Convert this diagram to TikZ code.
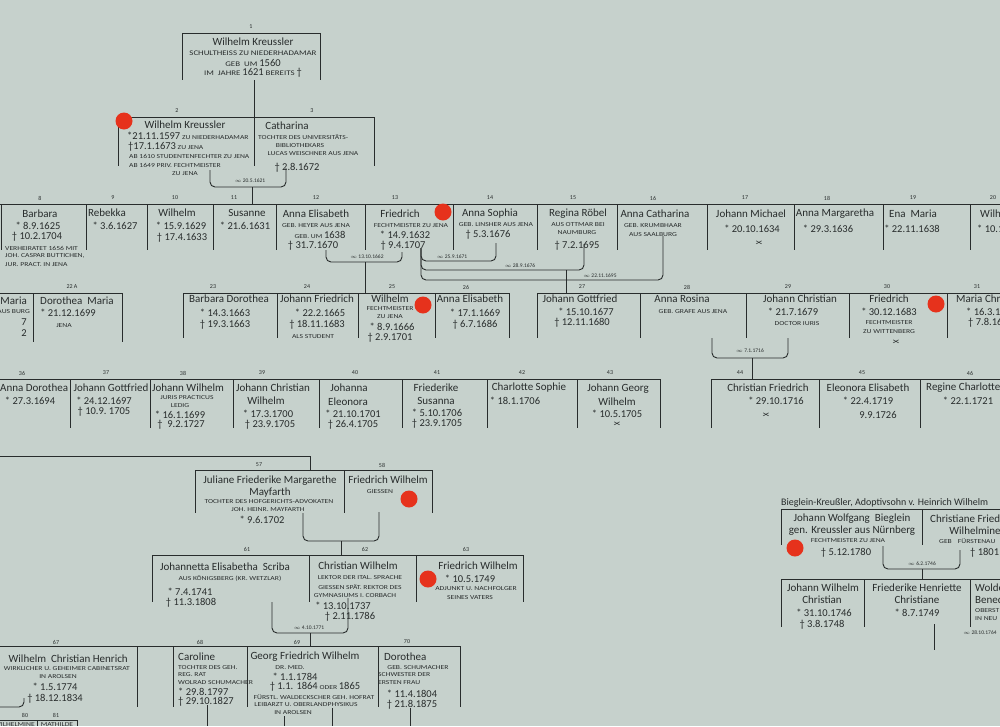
\documentclass[tikz,border=0pt]{standalone}
\usepackage{fontspec}
\setmainfont{Carlito}
\newfontfamily\capsf{Carlito}[FakeStretch=1.25]
\definecolor{paper}{RGB}{198,209,204}
\definecolor{ink}{RGB}{40,44,44}
\definecolor{dotred}{RGB}{230,50,28}
\newcommand{\fNm}{\rmfamily\fontsize{11}{12}\selectfont}
\newcommand{\fDt}{\rmfamily\fontsize{10.5}{12}\selectfont}
\newcommand{\fSm}{\capsf\fontsize{6.1}{7}\selectfont}
\newcommand{\fSL}{\capsf\fontsize{7.1}{8}\selectfont}
\newcommand{\fNu}{\rmfamily\fontsize{6}{7}\selectfont}
\newcommand{\fMa}{\rmfamily\fontsize{5.5}{6}\selectfont}
\newcommand{\xcr}{\scalebox{1.4}[0.8]{×}}
\newcommand{\marr}{$\infty$}
\newcommand{\grow}[5]{%
  \draw[ln] (#3,#1) -- (#4,#1);
  \foreach \dd in {#5} {\draw[ln] (\dd,#1) -- (\dd,#2);}
}
\tikzset{
  every node/.style={inner sep=0pt, text=ink},
  nm/.style={font=\fNm}, dt/.style={font=\fDt}, sm/.style={font=\fSm},
  sl/.style={font=\fSL}, nu/.style={font=\fNu}, ma/.style={font=\fMa},
  ln/.style={draw=ink, line width=0.9pt},
  br/.style={ln, rounded corners=5pt},
  lft/.style={anchor=west}, rgt/.style={anchor=east},
  rdot/.style={fill=dotred}
}
\begin{document}
\begin{tikzpicture}[x=1pt,y=-1pt]
\fill[paper] (0,0) rectangle (1000,726);
\useasboundingbox (0,0) rectangle (1000,726);
\clip (0,0) rectangle (1000,726);

% ---------- Row 1
\grow{33}{80}{182}{320}{182,320}
\draw[ln] (254,80) -- (254,117);
\node[nu] (n1) at (251,27) {1};
\node[nm] (p1a) at (253,42) {Wilhelm Kreussler};
\node[sl] (p1b) at (253,53) {SCHULTHEISS ZU NIEDERHADAMAR};
\node[sl] (p1c) at (253,63) {GEB\ \ UM {\fDt 1560}};
\node[sl] (p1d) at (253,73) {IM\ \ JAHRE {\fDt 1621} BEREITS {\fDt †}};

% ---------- Row 2
\grow{117}{166}{118}{374}{118,254,374}
\node[nu] (n2) at (177,111) {2};
\node[nu] (n3) at (312,111) {3};
\node[nm] (p2a) at (185,125) {Wilhelm Kreussler};
\node[sm,lft] (p2b) at (127,136) {{\fDt *21.11.1597} ZU NIEDERHADAMAR};
\node[sm,lft] (p2c) at (128,147) {{\fDt †17.1.1673} ZU JENA};
\node[sm,lft] (p2d) at (129,156) {AB 1610 STUDENTENFECHTER ZU JENA};
\node[sm,lft] (p2e) at (129,165) {AB 1649 PRIV. FECHTMEISTER};
\node[sm] (p2f) at (185,174) {ZU JENA};
\node[nm] (p3a) at (287,126) {Catharina};
\node[sm,lft] (p3b) at (258,137) {TOCHTER DES UNIVERSITÄTS-};
\node[sm] (p3c) at (300,146) {BIBLIOTHEKARS};
\node[sm] (p3d) at (313,154) {LUCAS WEISCHNER AUS JENA};
\node[dt] (p3e) at (297,168) {† 2.8.1672};
\fill[rdot] (124,121) circle (8.5pt);
\draw[br] (210,170) -- (210,187) -- (286,187) -- (286,168);
\node[ma] (m1) at (250,181) {\marr\ 20.5.1621};
\draw[ln] (252,187) -- (252,204);

% ---------- Row 3
\grow{204}{250}{0}{1000}{1,86,147,213,276,365,453,537,617,707,794,883,970}
\foreach \nn/\xp in {8/40,9/113,10/175,11/234,12/316,13/395,14/490,15/573,16/653,17/745,18/827,19/913,20/993}
  {\node[nu] (r3n\nn) at (\xp,198) {\nn};}
\node[nm] (p8a) at (40,214) {Barbara};
\node[dt] (p8b) at (38,226) {* 8.9.1625};
\node[dt] (p8c) at (37,237) {† 10.2.1704};
\node[sm,lft] (p8d) at (5,248) {VERHEIRATET 1656 MIT};
\node[sm,lft] (p8e) at (5,256) {JOH. CASPAR BUTTICHEN,};
\node[sm,lft] (p8f) at (5,265) {JUR. PRACT. IN JENA};
\node[nm,lft] (p9a) at (88,213) {Rebekka};
\node[dt] (p9b) at (115,226) {* 3.6.1627};
\node[nm] (p10a) at (177,213) {Wilhelm};
\node[dt] (p10b) at (181,226) {* 15.9.1629};
\node[dt] (p10c) at (182,238) {† 17.4.1633};
\node[nm] (p11a) at (247,213) {Susanne};
\node[dt] (p11b) at (245,226) {* 21.6.1631};
\node[nm] (p12a) at (316,214) {Anna Elisabeth};
\node[sm] (p12b) at (316,226) {GEB. HEYER AUS JENA};
\node[sm] (p12c) at (320,235) {GEB. UM {\fDt 1638}};
\node[dt] (p12d) at (313,246) {† 31.7.1670};
\node[nm] (p13a) at (400,214) {Friedrich};
\node[sm] (p13b) at (411,226) {FECHTMEISTER ZU JENA};
\node[dt] (p13c) at (405,235) {* 14.9.1632};
\node[dt] (p13d) at (403,246) {† 9.4.1707};
\fill[rdot] (443,212) circle (8.5pt);
\node[nm] (p14a) at (490,214) {Anna Sophia};
\node[sm] (p14b) at (496,225) {GEB. LINSHER AUS JENA};
\node[dt] (p14c) at (488,235) {† 5.3.1676};
\node[nm] (p15a) at (578,214) {Regina Röbel};
\node[sm] (p15b) at (578,225) {AUS OTTMAR BEI};
\node[sm] (p15c) at (577,233) {NAUMBURG};
\node[dt] (p15d) at (577,246) {† 7.2.1695};
\node[nm] (p16a) at (655,214) {Anna Catharina};
\node[sm] (p16b) at (653,226) {GEB. KRUMBHAAR};
\node[sm] (p16c) at (653,235) {AUS SAALBURG};
\node[nm] (p17a) at (751,214) {Johann Michael};
\node[dt] (p17b) at (752,229) {* 20.10.1634};
\node[dt] (p17c) at (759,243) {\xcr};
\node[nm] (p18a) at (835,214) {Anna Margaretha};
\node[dt] (p18b) at (828,229) {* 29.3.1636};
\node[nm] (p19a) at (913,214) {Ena\ \ Maria};
\node[dt] (p19b) at (912,229) {* 22.11.1638};
\node[nm,lft] (p20a) at (980,214) {Wilhelm};
\node[dt,lft] (p20b) at (977,229) {* 10.1};

% marriage brackets row 3
\draw[br] (326,250) -- (326,262) -- (402,262) -- (402,252);
\node[ma] (m2) at (367,257) {\marr\ 13.10.1662};
\draw[ln] (365,262) -- (365,293);
\draw[br] (421,248) -- (421,261) -- (496,261) -- (496,243);
\node[ma] (m3) at (452,257) {\marr\ 25.9.1671};
\draw[br] (421,248) -- (421,270) -- (584,270) -- (584,244);
\node[ma] (m4) at (520,266) {\marr\ 28.9.1676};
\draw[br] (421,248) -- (421,280) -- (663,280) -- (663,236);
\node[ma] (m5) at (600,276) {\marr\ 22.11.1695};
\draw[ln] (566,270) -- (566,293);

% ---------- Row 4
\grow{293}{342}{0}{122}{33,122}
\node[nu] (n22a) at (72,287) {22 A};
\node[nm,rgt] (p21a) at (27,301) {Maria};
\node[sm,rgt] (p21b) at (30,312) {AUS BURG};
\node[dt,rgt] (p21c) at (27,322) {7};
\node[dt,rgt] (p21d) at (27,333) {2};
\node[nm] (p22a) at (77,301) {Dorothea\ \ Maria};
\node[dt] (p22b) at (68,313) {* 21.12.1699};
\node[sm] (p22c) at (64,326) {JENA};

\grow{293}{338}{183}{509}{183,277,358,435,509}
\foreach \nn/\xp in {23/213,24/307,25/392,26/466}
  {\node[nu] (r4n\nn) at (\xp,287) {\nn};}
\node[nm] (p23a) at (229,299) {Barbara Dorothea};
\node[dt] (p23b) at (225,313) {* 14.3.1663};
\node[dt] (p23c) at (225,325) {† 19.3.1663};
\node[nm] (p24a) at (317,299) {Johann Friedrich};
\node[dt] (p24b) at (320,313) {* 22.2.1665};
\node[dt] (p24c) at (317,325) {† 18.11.1683};
\node[sm] (p24d) at (313,337) {ALS STUDENT};
\node[nm] (p25a) at (390,299) {Wilhelm};
\node[sm] (p25b) at (390,309) {FECHTMEISTER};
\node[sm] (p25c) at (390,317) {ZU JENA};
\node[dt] (p25d) at (392,327) {* 8.9.1666};
\node[dt] (p25e) at (390,338) {† 2.9.1701};
\fill[rdot] (423,305) circle (8.5pt);
\node[nm] (p26a) at (470,299) {Anna Elisabeth};
\node[dt] (p26b) at (475,313) {* 17.1.1669};
\node[dt] (p26c) at (475,325) {† 6.7.1686};

\grow{293}{338}{537}{1000}{537,640,746,849,947}
\foreach \nn/\xp in {27/582,28/687,29/788,30/887,31/977}
  {\node[nu] (r4n\nn) at (\xp,287) {\nn};}
\node[nm] (p27a) at (580,299) {Johann Gottfried};
\node[dt] (p27b) at (586,312) {* 15.10.1677};
\node[dt] (p27c) at (582,323) {† 12.11.1680};
\node[nm] (p28a) at (682,299) {Anna Rosina};
\node[sm] (p28b) at (693,312) {GEB. GRAFE AUS JENA};
\node[nm] (p29a) at (800,299) {Johann Christian};
\node[dt] (p29b) at (793,312) {* 21.7.1679};
\node[sm] (p29c) at (797,324) {DOCTOR IURIS};
\node[nm] (p30a) at (889,299) {Friedrich};
\node[dt] (p30b) at (889,312) {* 30.12.1683};
\node[sm] (p30c) at (889,323) {FECHTMEISTER};
\node[sm] (p30d) at (889,332) {ZU WITTENBERG};
\node[dt] (p30e) at (896,342) {\xcr};
\fill[rdot] (936,304) circle (8.5pt);
\node[nm,lft] (p31a) at (956,299) {Maria Christiane};
\node[dt,lft] (p31b) at (966,312) {* 16.3.1};
\node[dt,lft] (p31c) at (968,323) {† 7.8.16};
\draw[br] (712,338) -- (712,358) -- (788,358) -- (788,338);
\node[ma] (m6) at (750,351) {\marr\ 7.1.1716};
\draw[ln] (752,358) -- (752,379);

% ---------- Row 5
\grow{379}{428}{0}{660}{70,150,233,319,402,487,577,660}
\grow{379}{428}{711}{1000}{711,819,920}
\foreach \nn/\xp in {36/22,37/106,38/183,39/262,40/355,41/437,42/522,43/610,44/740,45/862,46/970}
  {\node[nu] (r5n\nn) at (\xp,373) {\nn};}
\node[nm,lft] (p36a) at (0,388) {Anna Dorothea};
\node[dt] (p36b) at (30,401) {* 27.3.1694};
\node[nm] (p37a) at (111,388) {Johann Gottfried};
\node[dt] (p37b) at (104,401) {* 24.12.1697};
\node[dt] (p37c) at (104,412) {† 10.9.\ 1705};
\node[nm] (p38a) at (188,388) {Johann Wilhelm};
\node[sm] (p38b) at (187,398) {JURIS PRACTICUS};
\node[sm] (p38c) at (180,406) {LEDIG};
\node[dt] (p38d) at (180,415) {* 16.1.1699};
\node[dt] (p38e) at (181,425) {†\ \ 9.2.1727};
\node[nm] (p39a) at (273,388) {Johann Christian};
\node[nm] (p39b) at (266,401) {Wilhelm};
\node[dt] (p39c) at (268,414) {* 17.3.1700};
\node[dt] (p39d) at (270,425) {† 23.9.1705};
\node[nm] (p40a) at (349,388) {Johanna};
\node[nm] (p40b) at (348,402) {Eleonora};
\node[dt] (p40c) at (353,414) {* 21.10.1701};
\node[dt] (p40d) at (353,425) {† 26.4.1705};
\node[nm] (p41a) at (436,388) {Friederike};
\node[nm] (p41b) at (436,401) {Susanna};
\node[dt] (p41c) at (437,413) {* 5.10.1706};
\node[dt] (p41d) at (437,424) {† 23.9.1705};
\node[nm] (p42a) at (529,388) {Charlotte Sophie};
\node[dt] (p42b) at (515,401) {* 18.1.1706};
\node[nm] (p43a) at (618,389) {Johann Georg};
\node[nm] (p43b) at (617,402) {Wilhelm};
\node[dt] (p43c) at (617,414) {* 10.5.1705};
\node[dt] (p43d) at (617,424) {\xcr};
\node[nm] (p44a) at (768,388) {Christian Friedrich};
\node[dt] (p44b) at (776,401) {* 29.10.1716};
\node[dt] (p44c) at (766,415) {\xcr};
\node[nm] (p45a) at (868,388) {Eleonora Elisabeth};
\node[dt] (p45b) at (868,401) {* 22.4.1719};
\node[dt] (p45c) at (878,415) {9.9.1726};
\node[nm,lft] (p46a) at (926,388) {Regine Charlotte};
\node[dt] (p46b) at (968,401) {* 22.1.1721};

% ---------- Row 6
\draw[ln] (0,456) -- (310,456) -- (310,470);
\grow{470}{513}{195}{432}{195,344,432}
\node[nu] (n57) at (259,465) {57};
\node[nu] (n58) at (382,465) {58};
\node[nm] (p57a) at (270,481) {Juliane Friederike Margarethe};
\node[nm] (p57b) at (270,493) {Mayfarth};
\node[sm] (p57c) at (269,502) {TOCHTER DES HOFGERICHTS-ADVOKATEN};
\node[sm] (p57d) at (268,510) {JOH. HEINR. MAYFARTH};
\node[dt] (p57e) at (262,520) {* 9.6.1702};
\node[nm] (p58a) at (388,480) {Friedrich Wilhelm};
\node[sm] (p58b) at (380,492) {GIESSEN};
\fill[rdot] (409,499) circle (8.5pt);
\draw[br] (303,513) -- (303,541) -- (379,541) -- (379,512);
\draw[ln] (341,541) -- (341,555);

% ---------- Row 7
\grow{555}{602}{152}{523}{152,309,416,523}
\node[nu] (n61) at (247,549) {61};
\node[nu] (n62) at (365,549) {62};
\node[nu] (n63) at (466,549) {63};
\node[nm] (p61a) at (225,567) {Johannetta Elisabetha\ \ Scriba};
\node[sm] (p61b) at (230,578) {AUS KÖNIGSBERG (KR. WETZLAR)};
\node[dt] (p61c) at (190,592) {* 7.4.1741};
\node[dt] (p61d) at (191,603) {† 11.3.1808};
\node[nm] (p62a) at (358,566) {Christian Wilhelm};
\node[sm] (p62b) at (360,578) {LEKTOR DER ITAL. SPRACHE};
\node[sm] (p62c) at (360,587) {GIESSEN SPÄT. REKTOR DES};
\node[sm] (p62d) at (355,596) {GYMNASIUMS I. CORBACH};
\node[dt] (p62e) at (343,606) {* 13.10.1737};
\node[dt] (p62f) at (350,617) {† 2.11.1786};
\node[nm] (p63a) at (478,566) {Friedrich Wilhelm};
\node[dt] (p63b) at (470,579) {* 10.5.1749};
\node[sm] (p63c) at (476,589) {ADJUNKT U. NACHFOLGER};
\node[sm] (p63d) at (470,598) {SEINES VATERS};
\fill[rdot] (428,579) circle (8.5pt);
\draw[br] (272,602) -- (272,633) -- (348,633) -- (348,598);
\node[ma] (m7) at (309,628) {\marr\ 4.10.1771};
\draw[ln] (310,633) -- (310,646);

% ---------- Row 8
\grow{646}{707}{0}{460}{137,173,247,378,460}
\node[nu] (n67) at (56,642) {67};
\node[nu] (n68) at (200,642) {68};
\node[nu] (n69) at (297,642) {69};
\node[nu] (n70) at (407,642) {70};
\node[nm,rgt] (p67a) at (128,659) {Wilhelm\ \ Christian Henrich};
\node[sm,rgt] (p67b) at (130,669) {WIRKLICHER U. GEHEIMER CABINETSRAT};
\node[sm] (p67c) at (58,677) {IN AROLSEN};
\node[dt] (p67d) at (55,687) {* 1.5.1774};
\node[dt] (p67e) at (55,699) {† 18.12.1834};
\node[nm,lft] (p68a) at (178,657) {Caroline};
\node[sm,lft] (p68b) at (178,668) {TOCHTER DES GEH.};
\node[sm,lft] (p68c) at (178,675) {REG. RAT};
\node[sm,lft] (p68d) at (178,683) {WOLRAD SCHUMACHER};
\node[dt,lft] (p68e) at (178,692) {* 29.8.1797};
\node[dt,lft] (p68f) at (178,702) {† 29.10.1827};
\node[nm] (p69a) at (305,657) {Georg Friedrich Wilhelm};
\node[sm] (p69b) at (290,668) {DR. MED.};
\node[dt] (p69c) at (295,677) {* 1.1.1784};
\node[dt] (p69d) at (315,687) {† 1.1. 1864\,{\fSm ODER}\,1865};
\node[sm] (p69e) at (314,697) {FÜRSTL. WALDECKSCHER GEH. HOFRAT};
\node[sm] (p69f) at (306,705) {LEIBARZT U. OBERLANDPHYSIKUS};
\node[sm] (p69g) at (293,713) {IN AROLSEN};
\node[nm,lft] (p70a) at (384,657) {Dorothea};
\node[sm] (p70b) at (418,668) {GEB. SCHUMACHER};
\node[sm,lft] (p70c) at (378,675) {SCHWESTER DER};
\node[sm,lft] (p70d) at (378,683) {ERSTEN FRAU};
\node[dt] (p70e) at (412,694) {* 11.4.1804};
\node[dt] (p70f) at (412,705) {† 21.8.1875};
\draw[br] (-10,707) -- (24,707) -- (24,698);
\grow{720}{726}{0}{77}{37,77}
\node[nu] (n80) at (25,715) {80};
\node[nu] (n81) at (56,715) {81};
\node[sm,rgt] (p80a) at (35,725) {WILHELMINE};
\node[sm] (p81a) at (57,725) {MATHILDE};
\draw[ln] (207,705) -- (207,726);
\draw[ln] (284,716) -- (284,726);
\draw[ln] (332,708) -- (332,726);
\draw[ln] (410,708) -- (410,726);

% ---------- Bieglein block
\node[font=\fontsize{10}{11}\selectfont,lft] (bt) at (781,503) {Bieglein-Kreußler, Adoptivsohn v. Heinrich Wilhelm};
\grow{509}{545}{781}{1000}{781,922}
\node[nm] (b1a) at (852,519) {Johann Wolfgang\ \ Bieglein};
\node[nm] (b1b) at (852,531) {gen. Kreussler aus Nürnberg};
\node[sm] (b1c) at (848,541) {FECHTMEISTER ZU JENA};
\node[dt] (b1d) at (846,553) {† 5.12.1780};
\fill[rdot] (795,548) circle (8.5pt);
\node[nm,lft] (b2a) at (930,519) {Christiane Friederike};
\node[nm] (b2b) at (975,531) {Wilhelmine};
\node[sm,lft] (b2c) at (939,541) {GEB\quad FÜRSTENAU};
\node[dt,lft] (b2d) at (970,553) {† 1801};
\draw[br] (883,546) -- (883,569) -- (960,569) -- (960,550);
\node[ma] (m8) at (922,564) {\marr\ 6.2.1746};
\draw[ln] (922,569) -- (922,579);
\grow{579}{627}{781}{1000}{781,864,970}
\node[nm] (b3a) at (823,588) {Johann Wilhelm};
\node[nm] (b3b) at (822,600) {Christian};
\node[dt] (b3c) at (824,613) {* 31.10.1746};
\node[dt] (b3d) at (822,625) {† 3.8.1748};
\node[nm] (b4a) at (917,588) {Friederike Henriette};
\node[nm] (b4b) at (917,600) {Christiane};
\node[dt] (b4c) at (917,613) {* 8.7.1749};
\node[nm,lft] (b5a) at (975,588) {Woldemar};
\node[nm,lft] (b5b) at (975,600) {Benedict};
\node[sm,lft] (b5c) at (975,611) {OBERST};
\node[sm,lft] (b5d) at (975,619) {IN NEU};
\draw[ln] (934,624) -- (934,650);
\node[ma] (m9) at (980,633) {\marr\ 28.10.1764};
\end{tikzpicture}
\end{document}
